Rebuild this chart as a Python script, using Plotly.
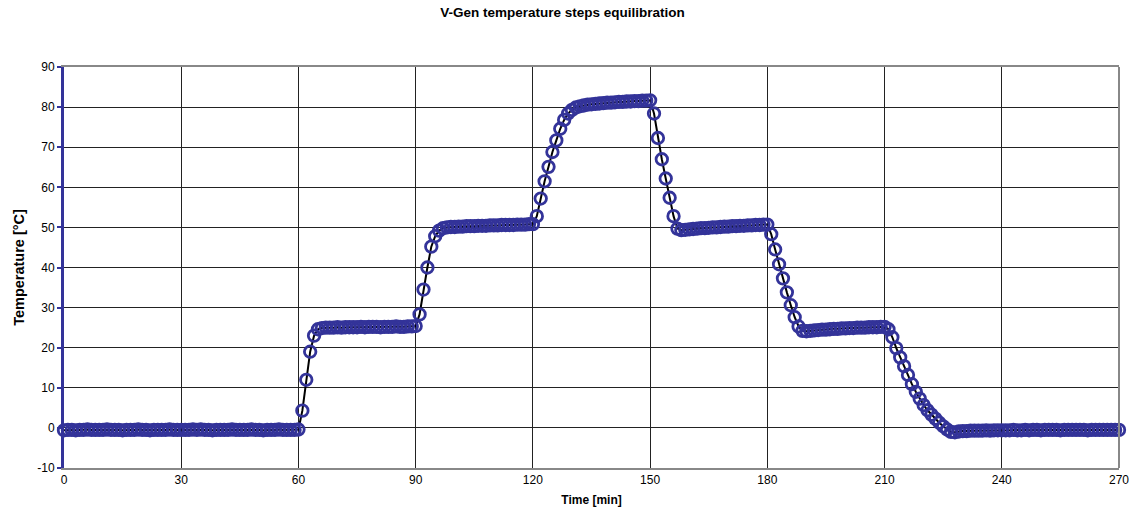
import plotly.graph_objects as go

# ---- data ----
time_min = list(range(0, 271))  # one sample per minute

temp_hold_0 = [-0.6, -0.5, -0.5, -0.6, -0.5, -0.5, -0.4, -0.5, -0.5, -0.5,
               -0.5, -0.4, -0.5, -0.5, -0.5, -0.6, -0.5, -0.5, -0.5, -0.4,
               -0.5, -0.5, -0.6, -0.5, -0.5, -0.5, -0.5, -0.4, -0.5, -0.5,
               -0.5, -0.5, -0.5, -0.4, -0.5, -0.4, -0.5, -0.5, -0.6, -0.5,
               -0.5, -0.5, -0.5, -0.4, -0.5, -0.5, -0.5, -0.5, -0.4, -0.5,
               -0.5, -0.6, -0.5, -0.5, -0.5, -0.4, -0.5, -0.5, -0.5, -0.5]
temp_up_25 = [-0.4, 4.3, 12.0, 19.0, 23.0, 24.6]
temp_hold_25 = [24.9, 25.0, 25.0, 25.0, 25.1, 25.0, 25.1, 25.1, 25.1, 25.1,
                25.2, 25.1, 25.2, 25.2, 25.2, 25.1, 25.2, 25.2, 25.2, 25.3,
                25.2, 25.2, 25.3, 25.3]
temp_up_50 = [25.4, 28.3, 34.5, 40.0, 45.2, 47.8, 49.2, 49.8]
temp_hold_50 = [50.0, 50.1, 50.1, 50.2, 50.2, 50.3, 50.3, 50.3, 50.4, 50.4,
                50.4, 50.5, 50.5, 50.5, 50.6, 50.6, 50.6, 50.6, 50.7, 50.7,
                50.7, 50.8, 50.8]
temp_up_80 = [52.8, 57.2, 61.5, 65.1, 68.8, 71.7, 74.6, 76.8, 78.4, 79.3, 79.9]
temp_hold_80 = [80.2, 80.4, 80.6, 80.7, 80.8, 80.9, 81.0, 81.1, 81.1, 81.2,
                81.3, 81.3, 81.4, 81.4, 81.5, 81.5, 81.6, 81.6, 81.7]
temp_down_50 = [78.4, 72.3, 67.0, 62.2, 57.4, 52.8, 49.7]
temp_hold_50b = [49.3, 49.4, 49.5, 49.6, 49.7, 49.8, 49.8, 49.9, 50.0, 50.0,
                 50.1, 50.2, 50.2, 50.3, 50.3, 50.4, 50.4, 50.5, 50.5, 50.6,
                 50.6, 50.7, 50.7]
temp_down_25 = [48.3, 44.5, 40.8, 37.3, 33.8, 30.6, 27.6, 25.3, 24.2]
temp_hold_25b = [24.1, 24.2, 24.3, 24.4, 24.5, 24.5, 24.6, 24.7, 24.7, 24.8,
                 24.8, 24.9, 24.9, 25.0, 25.0, 25.0, 25.1, 25.1, 25.1, 25.2,
                 25.2]
temp_down_0 = [24.6, 22.6, 19.9, 17.6, 15.4, 13.2, 10.9, 9.0, 7.3, 5.7,
               4.4, 3.3, 2.3, 1.3, 0.4, -0.4, -1.0, -1.1]
temp_hold_0b = [-0.9, -0.8, -0.8, -0.7, -0.7, -0.7, -0.7, -0.6, -0.7, -0.6,
                -0.6, -0.6, -0.6, -0.6, -0.5, -0.6, -0.6, -0.5, -0.6, -0.5,
                -0.5, -0.6, -0.5, -0.5, -0.5, -0.5, -0.6, -0.5, -0.5, -0.5,
                -0.5, -0.5, -0.5, -0.6, -0.5, -0.5, -0.5, -0.5, -0.5, -0.5,
                -0.5, -0.5]

temperature = (temp_hold_0 + temp_up_25 + temp_hold_25 + temp_up_50 + temp_hold_50
               + temp_up_80 + temp_hold_80 + temp_down_50 + temp_hold_50b
               + temp_down_25 + temp_hold_25b + temp_down_0 + temp_hold_0b)
assert len(temperature) == len(time_min)

x_ticks = [0, 30, 60, 90, 120, 150, 180, 210, 240, 270]
y_ticks = [-10, 0, 10, 20, 30, 40, 50, 60, 70, 80, 90]

FONT = "Liberation Sans, Arial, sans-serif"
NAVY = "#333399"

W, H = 1136, 510

fig = go.Figure()
fig.add_trace(go.Scatter(
    x=time_min, y=temperature, mode="lines+markers",
    line=dict(color="black", width=2),
    marker=dict(symbol="circle-open", size=11.5, color=NAVY,
                line=dict(width=2.8, color=NAVY)),
    cliponaxis=False, showlegend=False,
))

fig.update_layout(
    width=W, height=H,
    margin=dict(l=64, r=17, t=67, b=42, autoexpand=False),
    paper_bgcolor="white", plot_bgcolor="white",
    font=dict(family=FONT, size=12, color="black"),
    title=dict(text="<b>V-Gen temperature steps equilibration</b>",
               x=562.5 / W, xref="container", xanchor="center",
               y=1 - 12 / H, yref="container", yanchor="middle",
               font=dict(family=FONT, size=13.5, color="black")),
    xaxis=dict(range=[0, 270], tickvals=x_ticks, ticktext=[str(v) for v in x_ticks],
               showgrid=True, gridcolor="#222222", gridwidth=1,
               zeroline=False, showline=True, linecolor="#888888", linewidth=2,
               mirror=True, ticks="", ticklen=0, automargin=False,
               tickfont=dict(family=FONT, size=12),
               title=dict(text="<b>Time [min]</b>", standoff=9,
                          font=dict(family=FONT, size=12))),
    yaxis=dict(range=[-10, 90], tickvals=y_ticks, ticktext=[str(v) for v in y_ticks],
               showgrid=True, gridcolor="#222222", gridwidth=1,
               zeroline=False, showline=True, linecolor=NAVY, linewidth=3,
               ticks="outside", ticklen=4, tickwidth=2, tickcolor=NAVY,
               automargin=False, tickfont=dict(family=FONT, size=12),
               title=dict(text="<b>Temperature [°C]</b>", standoff=10,
                          font=dict(family=FONT, size=14.5))),
    shapes=[dict(type="line", xref="paper", yref="paper", x0=1, x1=1, y0=0, y1=1,
                 line=dict(color="#888888", width=2), layer="above")],
)

# remove the default page margin so the figure sits at the window's top-left corner
fig.write_html("out.html", config={"displayModeBar": False},
               post_script="document.body.style.margin='0px';")
